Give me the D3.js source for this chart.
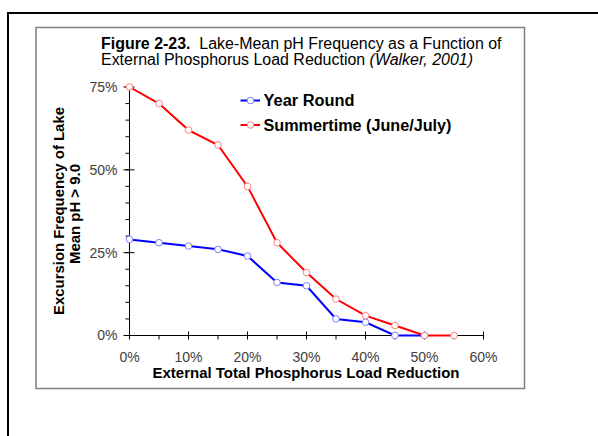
<!DOCTYPE html>
<html>
<head>
<meta charset="utf-8">
<script src="https://cdn.jsdelivr.net/npm/d3@7"></script>
<style>
  html, body { margin: 0; padding: 0; background: #fff; }
  svg { display: block; font-family: "Liberation Sans", Arial, sans-serif; }
</style>
</head>
<body>
<svg id="chart" width="598" height="436"></svg>
<script>
// ---- data ----
const reduction = [0, 5, 10, 15, 20, 25, 30, 35, 40, 45, 50, 55];
const yearRound = [29, 28, 27, 26, 24, 16, 15, 5, 4, 0, 0];
const summertime = [75, 70, 62, 57.5, 45, 28, 19, 11, 6, 3, 0, 0];
const seriesNames = ["Year Round", "Summertime (June/July)"];
const xTicks = [0, 10, 20, 30, 40, 50, 60];
const yTicks = [0, 25, 50, 75];
const titleBold = "Figure 2-23.";
const titleRest = "  Lake-Mean pH Frequency as a Function of";
const title2 = "External Phosphorus Load Reduction ";
const title2Italic = "(Walker, 2001)";
const xTitle = "External Total Phosphorus Load Reduction";
const yTitle = ["Excursion Frequency of Lake", "Mean pH > 9.0"];

const svg = d3.select("#chart");

// frames
svg.append("rect").attr("x", 8).attr("y", 13).attr("width", 640).attr("height", 500)
  .attr("fill", "none").attr("stroke", "#000").attr("stroke-width", 2);
svg.append("rect").attr("x", 36).attr("y", 27.5).attr("width", 488.5).attr("height", 361)
  .attr("fill", "#fff").attr("stroke", "#7f7f7f").attr("stroke-width", 1.5);

const x = d3.scaleLinear().domain([0, 60]).range([129.5, 483.5]);
const y = d3.scaleLinear().domain([0, 75]).range([335.5, 87]);

function fit(sel, w, mode) {
  sel.attr("textLength", w).attr("lengthAdjust", mode || "spacingAndGlyphs");
}

// title
const t1 = svg.append("text").attr("x", 101).attr("y", 48.5).attr("font-size", 16).attr("fill", "#000");
t1.append("tspan").attr("font-weight", "bold").text(titleBold);
t1.append("tspan").attr("xml:space", "preserve").style("white-space", "pre").text(titleRest);
fit(t1, 400.5);
const t2 = svg.append("text").attr("x", 101).attr("y", 64.5).attr("font-size", 16).attr("fill", "#000");
t2.append("tspan").text(title2);
t2.append("tspan").attr("font-style", "italic").text(title2Italic);
fit(t2, 372);

// y axis
const gy = svg.append("g");
gy.append("line").attr("x1", x(0)).attr("x2", x(0)).attr("y1", y(75)).attr("y2", y(0))
  .attr("stroke", "#000").attr("stroke-width", 1);
gy.selectAll("line.minor").data(d3.range(0, 76, 5)).enter().append("line")
  .attr("x1", x(0) - 4).attr("x2", x(0)).attr("y1", d => y(d)).attr("y2", d => y(d))
  .attr("stroke", "#000");
gy.selectAll("line.major").data(yTicks).enter().append("line")
  .attr("x1", x(0) - 6).attr("x2", x(0) + 5).attr("y1", d => y(d)).attr("y2", d => y(d))
  .attr("stroke", "#000");
gy.selectAll("text").data(yTicks).enter().append("text")
  .attr("x", x(0) - 12).attr("y", d => y(d)).attr("dy", "0.35em")
  .attr("text-anchor", "end").attr("font-size", 14).attr("fill", "#404040")
  .text(d => d + "%");

// x axis
const gx = svg.append("g");
gx.append("line").attr("x1", x(0)).attr("x2", x(60)).attr("y1", y(0)).attr("y2", y(0))
  .attr("stroke", "#000");
gx.selectAll("line.minor").data(d3.range(5, 60, 10)).enter().append("line")
  .attr("x1", d => x(d)).attr("x2", d => x(d)).attr("y1", y(0)).attr("y2", y(0) + 4)
  .attr("stroke", "#000");
gx.selectAll("line.major").data(xTicks).enter().append("line")
  .attr("x1", d => x(d)).attr("x2", d => x(d)).attr("y1", y(0) - 4).attr("y2", y(0) + 4)
  .attr("stroke", "#000");
gx.selectAll("text").data(xTicks).enter().append("text")
  .attr("x", d => x(d)).attr("y", 362).attr("text-anchor", "middle")
  .attr("font-size", 14).attr("fill", "#404040").text(d => d + "%");

// axis titles
const xt = svg.append("text").attr("x", 306).attr("y", 378).attr("text-anchor", "middle")
  .attr("font-size", 15).attr("font-weight", "bold").attr("fill", "#000").text(xTitle);
fit(xt, 307);
const yCenters = [211, 214];
const yBase = [63.5, 80];
const yLens = [208, 100];
svg.selectAll("text.ytitle").data(yTitle).enter().append("text")
  .attr("transform", (d, i) => `translate(${yBase[i]},${yCenters[i]}) rotate(-90)`)
  .attr("text-anchor", "middle").attr("font-size", 15).attr("font-weight", "bold")
  .attr("fill", "#000").text(d => d)
  .each(function (d, i) { fit(d3.select(this), yLens[i], i === 1 ? "spacing" : "spacingAndGlyphs"); });

// series
const series = [
  { name: seriesNames[0], values: yearRound, line: "#0000ff", marker: "#7f7fff" },
  { name: seriesNames[1], values: summertime, line: "#ff0000", marker: "#ff7f7f" }
];
const lineGen = d3.line().x(d => x(d[0])).y(d => y(d[1]));
series.forEach(s => {
  const pts = s.values.map((v, i) => [reduction[i], v]);
  svg.append("path").datum(pts).attr("d", lineGen).attr("fill", "none")
    .attr("stroke", s.line).attr("stroke-width", 2);
  svg.selectAll(null).data(pts).enter().append("circle")
    .attr("cx", d => x(d[0])).attr("cy", d => y(d[1])).attr("r", 3.3)
    .attr("fill", "#fff").attr("stroke", s.marker).attr("stroke-width", 1);
});

// legend
const legY = [100.5, 125];
const legW = [91, 188];
series.forEach((s, i) => {
  const g = svg.append("g");
  g.append("line").attr("x1", 240.5).attr("x2", 260).attr("y1", legY[i]).attr("y2", legY[i])
    .attr("stroke", s.line).attr("stroke-width", 2);
  g.append("circle").attr("cx", 250.5).attr("cy", legY[i]).attr("r", 3.3)
    .attr("fill", "#fff").attr("stroke", s.marker);
  const tx = g.append("text").attr("x", 263.5).attr("y", legY[i]).attr("dy", "0.36em")
    .attr("font-size", 16).attr("font-weight", "bold").attr("fill", "#000").text(s.name);
  fit(tx, legW[i]);
});
</script>
</body>
</html>
